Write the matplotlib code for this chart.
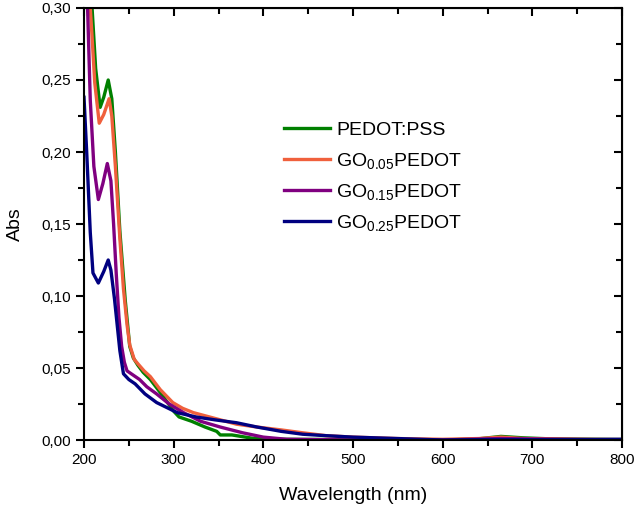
import matplotlib
matplotlib.use("Agg")
import matplotlib.pyplot as plt
from matplotlib.ticker import MultipleLocator, FuncFormatter

plt.rcParams['font.family'] = ['Liberation Sans', 'DejaVu Sans']
plt.rcParams['mathtext.fontset'] = 'custom'
plt.rcParams['mathtext.rm'] = 'Liberation Sans'
plt.rcParams['mathtext.it'] = 'Liberation Sans:italic'
plt.rcParams['mathtext.bf'] = 'Liberation Sans:bold'

# PEDOT:PSS
wl_pedot = [206, 209, 213, 218, 222, 227, 231, 235, 240, 246, 251, 255, 260, 266, 274,
            285, 292, 300, 306, 320, 335, 348, 352, 365, 380, 390, 420, 500, 600, 640,
            665, 690, 720, 800]
abs_pedot = [0.34, 0.30, 0.258, 0.231, 0.238, 0.25, 0.237, 0.20, 0.145, 0.097, 0.065, 0.057,
             0.052, 0.047, 0.042, 0.033, 0.027, 0.020, 0.016, 0.013, 0.009, 0.006, 0.0035,
             0.0035, 0.002, 0.001, 0.0005, 0.0003, 0.0, 0.0008, 0.0025, 0.0015, 0.0008, 0.0003]

# GO0.05PEDOT
wl_go05 = [207, 209, 212, 217, 222, 228, 231, 235, 240, 244, 248, 251, 256, 260, 267, 274,
           285, 299, 310, 322, 340, 352, 370, 393, 420, 444, 470, 500, 550, 600, 640, 665,
           690, 750, 800]
abs_go05 = [0.30, 0.28, 0.248, 0.22, 0.226, 0.237, 0.225, 0.19, 0.14, 0.105, 0.08, 0.066,
            0.056, 0.053, 0.048, 0.044, 0.035, 0.026, 0.022, 0.019, 0.016, 0.014, 0.011,
            0.009, 0.007, 0.005, 0.003, 0.002, 0.001, 0.0005, 0.001, 0.002, 0.001, 0.0005,
            0.0003]

# GO0.15PEDOT
wl_go15 = [204, 207, 211, 216, 221, 226, 230, 233, 236, 239, 242, 245, 248, 255, 262, 270,
           281, 295, 311, 330, 352, 377, 400, 426, 500, 600, 665, 800]
abs_go15 = [0.30, 0.236, 0.19, 0.167, 0.178, 0.192, 0.18, 0.15, 0.115, 0.085, 0.065, 0.054,
            0.048, 0.045, 0.042, 0.037, 0.032, 0.025, 0.019, 0.013, 0.009, 0.005, 0.002,
            0.0005, 0.0, 0.0, 0.001, 0.0]

# GO0.25PEDOT
wl_go25 = [200, 203, 207, 210, 216, 222, 227, 230, 234, 237, 240, 244, 250, 257, 268, 281,
           304, 325, 346, 370, 393, 420, 444, 470, 500, 550, 600, 650, 700, 750, 800]
abs_go25 = [0.238, 0.20, 0.144, 0.116, 0.109, 0.117, 0.125, 0.118, 0.098, 0.08, 0.062, 0.046,
            0.042, 0.039, 0.032, 0.026, 0.019, 0.016, 0.014, 0.012, 0.009, 0.006, 0.004,
            0.003, 0.002, 0.001, 0.0, 0.0003, 0.0002, 0.0003, 0.0005]

labels = ['PEDOT:PSS', r'GO$_{\mathrm{0.05}}$PEDOT', r'GO$_{\mathrm{0.15}}$PEDOT',
          r'GO$_{\mathrm{0.25}}$PEDOT']
colors = ['#008000', '#F0603C', '#800080', '#000080']

fig = plt.figure(figsize=(6.36, 5.08), dpi=100)
ax = fig.add_axes([84 / 636, 68 / 508, 538 / 636, 432 / 508])

series = [(wl_pedot, abs_pedot), (wl_go05, abs_go05), (wl_go15, abs_go15), (wl_go25, abs_go25)]
for (x, y), lab, c in zip(series, labels, colors):
    ax.plot(x, y, color=c, lw=2.4, label=lab)

ax.set_xlim(200, 800)
ax.set_ylim(0, 0.30)
ax.xaxis.set_major_locator(MultipleLocator(100))
ax.xaxis.set_minor_locator(MultipleLocator(50))
ax.yaxis.set_major_locator(MultipleLocator(0.05))
ax.yaxis.set_minor_locator(MultipleLocator(0.025))
ax.yaxis.set_major_formatter(FuncFormatter(lambda v, p: f'{v:.2f}'.replace('.', ',')))

for s in ax.spines.values():
    s.set_linewidth(1.5)
ax.tick_params(which='major', direction='out', length=6, width=1.5, labelsize=11)
ax.tick_params(which='minor', direction='out', length=4, width=1.5)

# mirrored ticks on top and right, pointing inward
top = ax.secondary_xaxis('top')
top.xaxis.set_major_locator(MultipleLocator(100))
top.xaxis.set_minor_locator(MultipleLocator(50))
top.tick_params(which='major', direction='in', length=6, width=1.5, labeltop=False)
top.tick_params(which='minor', direction='in', length=4, width=1.5)
right = ax.secondary_yaxis('right')
right.yaxis.set_major_locator(MultipleLocator(0.05))
right.yaxis.set_minor_locator(MultipleLocator(0.025))
right.tick_params(which='major', direction='in', length=6, width=1.5, labelright=False)
right.tick_params(which='minor', direction='in', length=4, width=1.5)

ax.set_xlabel('Wavelength (nm)', fontsize=14, labelpad=14)
ax.set_ylabel('Abs', fontsize=14, labelpad=12.5)

ax.legend(loc='upper left', bbox_to_anchor=(270 / 636, 1 - 108 / 508),
          bbox_transform=fig.transFigure, frameon=False, fontsize=14,
          handlelength=2.4, handletextpad=0.3, labelspacing=0.58, borderpad=0.2)

plt.savefig('out.png', dpi=100)
